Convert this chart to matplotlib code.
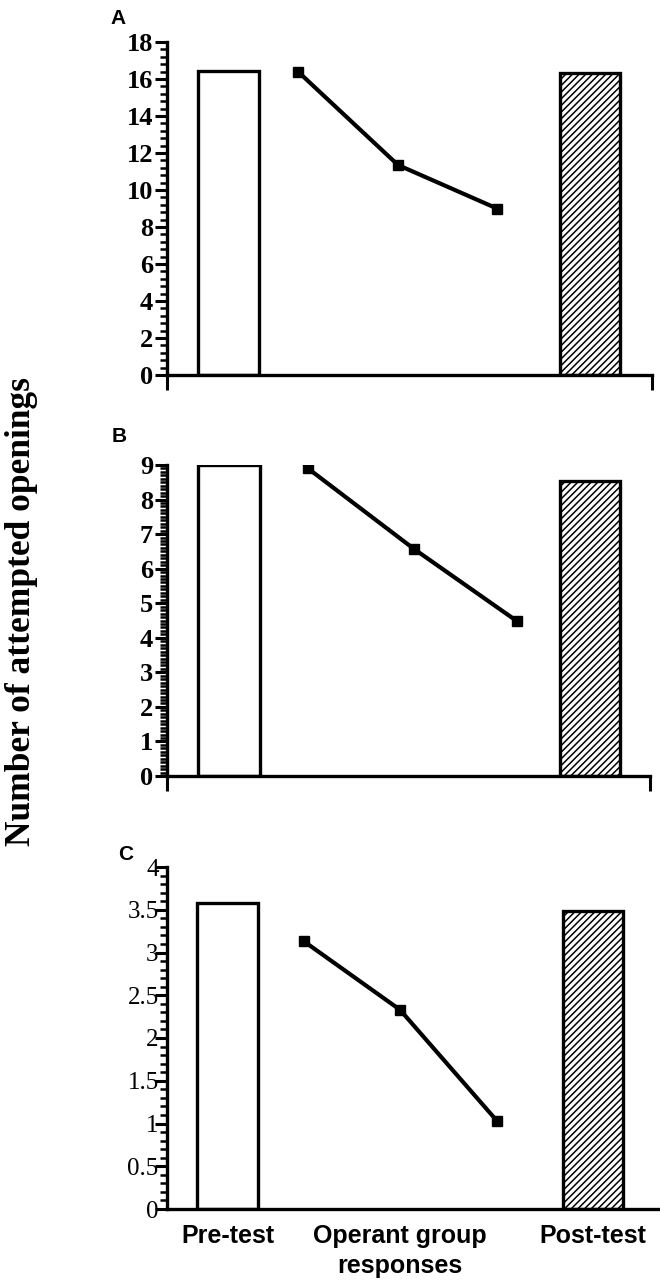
import matplotlib
matplotlib.use("Agg")
import matplotlib.pyplot as plt
from matplotlib.ticker import MultipleLocator

plt.rcParams['hatch.linewidth'] = 1.1

# ---- data ----
panels = ["A", "B", "C"]
pre_values = [16.45, 9.0, 3.58]
post_values = [16.35, 8.54, 3.49]
operant_A = [16.4, 11.35, 9.0]
operant_B = [8.9, 6.57, 4.48]
operant_C = [3.13, 2.33, 1.03]
operant_values = [operant_A, operant_B, operant_C]
y_max = [18, 9, 4]
y_major = [2, 1, 0.5]
y_minor = [0.4, 0.1, 0.1]
category_labels = ["Pre-test", "Operant group\nresponses", "Post-test"]
y_label = "Number of attempted openings"

# ---- layout (pixel-like x units measured from the y axis) ----
W, H = 660, 1280
axis_left_px = 167
layout = [
    dict(xmax=485, pre=61, prew=61, line=[131, 231, 330], post=423, postw=60, top=42, bot=375, stub=True),
    dict(xmax=483, pre=62, prew=62, line=[141, 247, 350], post=423, postw=60, top=465, bot=776, stub=True),
    dict(xmax=493, pre=60.5, prew=61, line=[137, 233, 330], post=426, postw=60, top=867, bot=1209, stub=False),
]
letter_pos = [(110, 18), (112, 437), (118, 855)]

fig = plt.figure(figsize=(W / 100, H / 100), dpi=100)

serif = ["Liberation Serif", "DejaVu Serif"]
sans = ["Liberation Sans", "DejaVu Sans"]

for i, L in enumerate(layout):
    ax = fig.add_axes([axis_left_px / W, 1 - L["bot"] / H,
                       L["xmax"] / W, (L["bot"] - L["top"]) / H])
    ax.set_xlim(0, L["xmax"])
    ax.set_ylim(0, y_max[i])
    ax.bar(L["pre"], pre_values[i], width=L["prew"], facecolor="white",
           edgecolor="black", linewidth=2.4, zorder=2)
    ax.bar(L["post"], post_values[i], width=L["postw"], facecolor="white",
           edgecolor="black", linewidth=2.4, hatch="/////", zorder=2)
    ax.plot(L["line"], operant_values[i], color="black", linewidth=3.0,
            marker="s", markersize=7, markerfacecolor="black",
            markeredgecolor="black", zorder=3)
    for s in ["top", "right"]:
        ax.spines[s].set_visible(False)
    for s in ["left", "bottom"]:
        ax.spines[s].set_linewidth(2.4)
        ax.spines[s].set_zorder(4)
        ax.spines[s].set_capstyle("projecting")
    ax.yaxis.set_major_locator(MultipleLocator(y_major[i]))
    ax.yaxis.set_minor_locator(MultipleLocator(y_minor[i]))
    ax.tick_params(axis="y", which="major", direction="out", length=9,
                   width=2.2, pad=1)
    ax.tick_params(axis="y", which="minor", direction="out", length=5,
                   width=1.8)
    if i < 2:
        for t in ax.get_yticklabels():
            t.set_fontfamily(serif)
            t.set_fontweight("bold")
            t.set_fontsize(19)
    else:
        ax.set_yticks(ax.get_yticks())
        ax.set_yticklabels([("%g" % v) for v in ax.get_yticks()])
        for t in ax.get_yticklabels():
            t.set_fontfamily(serif)
            t.set_fontsize(18)
        ax.tick_params(axis="y", which="major", pad=-3)
    ax.set_ylim(0, y_max[i])
    if L["stub"]:
        ax.set_xticks([0, L["xmax"]], ["", ""])
        ax.tick_params(axis="x", which="major", direction="out", length=11,
                       width=2.2)
    else:
        ax.set_xticks([0], [""])
        ax.tick_params(axis="x", which="major", length=0)
        ax.set_xticks([L["pre"], L["line"][1], L["post"]], category_labels,
                      minor=True)
        ax.tick_params(axis="x", which="minor", length=0, pad=11)
        for t in ax.get_xticklabels(minor=True):
            t.set_fontfamily(sans)
            t.set_fontweight("bold")
            t.set_fontsize(18)
            t.set_linespacing(1.3)
    ax.set_xlim(0, L["xmax"])
    lx, ly = letter_pos[i]
    fig.text(lx / W, 1 - ly / H, panels[i], fontfamily=sans,
             fontweight="bold", fontsize=15, ha="left", va="center")

fig.text(22 / W, 1 - 611 / H, y_label, rotation=90, fontfamily=serif,
         fontweight="bold", fontsize=25.5, ha="center", va="center")

fig.savefig("out.png", dpi=100, facecolor="white")
